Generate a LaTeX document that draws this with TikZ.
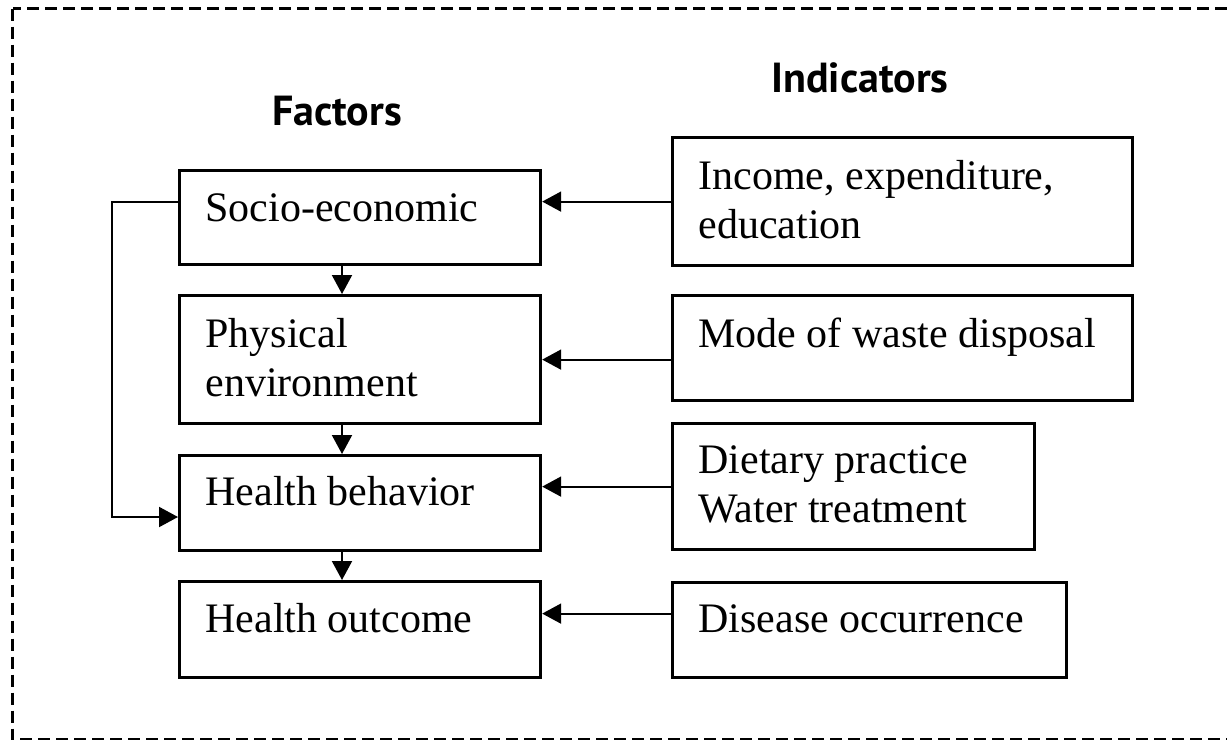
\documentclass[tikz,border=0pt]{standalone}
\usepackage{fontspec}
\setmainfont{Liberation Serif}
\newfontfamily\headfont{PT Sans}
\usetikzlibrary{arrows.meta,calc}

\begin{document}
\begin{tikzpicture}[x=0.5pt,y=0.5pt,yscale=-1,
  box/.style={draw,line width=1.6pt,inner sep=0pt,anchor=north west},
  txt/.style={inner sep=0pt,anchor=base west,align=left,font=\fontsize{21}{24.5}\selectfont},
  head/.style={inner sep=0pt,anchor=base,font=\headfont\bfseries\fontsize{21}{25}\selectfont},
  conn/.style={line width=1pt,-{Triangle[length=9.5pt,width=10pt]}}]
\useasboundingbox (0,0) rectangle (1227,740);
\draw[line width=1.2pt,dash pattern=on 6pt off 3pt] (12.5,8.5) rectangle (1230,739);

% headings
\node[head] (factors) at (337,125) {Factors};
\node[head] (indicators) at (860,92) {Indicators};

% factor column
\node[box,minimum width=180.5pt,minimum height=47pt] (soc) at (178,169) {};
\node[box,minimum width=180.5pt,minimum height=64pt] (phy) at (178,294) {};
\node[box,minimum width=180.5pt,minimum height=47.5pt] (beh) at (178,454) {};
\node[box,minimum width=180.5pt,minimum height=48pt] (out) at (178,580) {};
% (two-line texts sit on their last baseline)
\node[txt] (socT) at ($(soc.north west)+(27,52)$) {Socio-economic};
\node[txt] (phyT) at ($(phy.north west)+(27,102)$) {Physical\\environment};
\node[txt] (behT) at ($(beh.north west)+(27,51)$) {Health behavior};
\node[txt] (outT) at ($(out.north west)+(27,52)$) {Health outcome};

% indicator column
\node[box,minimum width=230pt,minimum height=64pt] (inc) at (671,136) {};
\node[box,minimum width=230pt,minimum height=52.5pt] (mod) at (671,294) {};
\node[box,minimum width=181pt,minimum height=63pt] (diet) at (671,422) {};
\node[box,minimum width=197pt,minimum height=47.5pt] (dis) at (671,581) {};
\node[txt] (incT) at ($(inc.north west)+(27,102)$) {Income, expenditure,\\education};
\node[txt] (modT) at ($(mod.north west)+(27,53)$) {Mode of waste disposal};
\node[txt] (dietT) at ($(diet.north west)+(27,100)$) {Dietary practice\\Water treatment};
\node[txt] (disT) at ($(dis.north west)+(27,51)$) {Disease occurrence};

% links down the factor column
\coordinate (col) at (342,0);
\draw[conn] (soc.south -| col) -- (phy.north -| col);
\draw[conn] (phy.south -| col) -- (beh.north -| col);
\draw[conn] (beh.south -| col) -- (out.north -| col);

% socio-economic straight to behaviour
\coordinate (socA) at ($(soc.west)+(0,-16)$);
\coordinate (bend) at (112,517);
\draw[conn] (socA) -| (bend) -- (bend -| beh.west);

% indicators into factors
\coordinate (disA) at ($(dis.west)+(0,-16.5)$);
\draw[conn] (inc.west) -- (inc.west -| soc.east);
\draw[conn] (phy.east -| mod.west) -- (phy.east);
\draw[conn] (diet.west) -- (diet.west -| beh.east);
\draw[conn] (disA) -- (disA -| out.east);
\end{tikzpicture}
\end{document}
